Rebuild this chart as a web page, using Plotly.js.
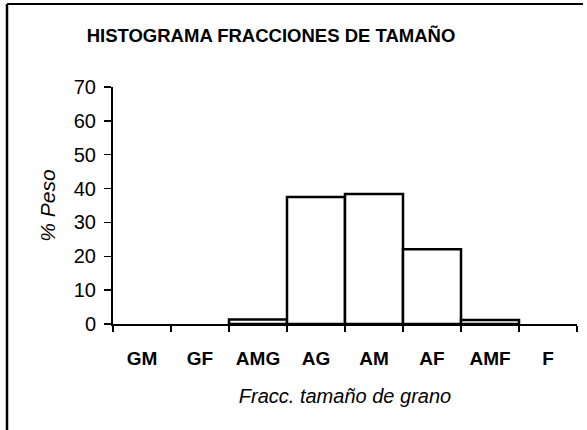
<!DOCTYPE html>
<html>
<head>
<meta charset="utf-8">
<script src="https://cdn.plot.ly/plotly-3.0.1.min.js"></script>
<style>html,body{margin:0;padding:0;background:#fff;}#chart{width:587px;height:430px;}</style>
</head>
<body>
<div id="chart"></div>
<script>
const categories = ["GM", "GF", "AMG", "AG", "AM", "AF", "AMF", "F"];
const pesoValues = [0, 0, 1.3, 37.5, 38.4, 22.1, 1.2, 0];
const yTickValues = [0, 10, 20, 30, 40, 50, 60, 70];
const chartTitle = "HISTOGRAMA FRACCIONES DE TAMAÑO";
const xTitle = "Fracc. tamaño de grano";
const yTitle = "% Peso";

const FONT = "Arial, 'Liberation Sans', sans-serif";
// plot area in pixels
const L = 113, R = 577, T = 87, B = 324;
const W = 587, H = 430;
const px2x = p => (p - L) / (R - L);
const px2y = p => (B - p) / (B - T);

const trace = {
  type: "bar",
  x: categories,
  y: pesoValues,
  width: 1,
  marker: {color: "#ffffff", line: {color: "#000000", width: pesoValues.map(v => v > 0 ? 2.5 : 0)}},
  hoverinfo: "x+y"
};

const layout = {
  width: W, height: H,
  margin: {l: L, r: W - R, t: T, b: H - B, pad: 0},
  paper_bgcolor: "#ffffff",
  plot_bgcolor: "#ffffff",
  showlegend: false,
  bargap: 0,
  title: {
    text: chartTitle,
    font: {family: FONT, size: 18.5, color: "#000", weight: "bold"},
    xref: "paper", x: px2x(271), xanchor: "center",
    yref: "container", y: 1 - 36 / H, yanchor: "middle"
  },
  xaxis: {
    type: "category",
    categoryorder: "array",
    categoryarray: categories,
    tickson: "boundaries",
    ticks: "outside", ticklen: 6, tickwidth: 1.5, tickcolor: "#000",
    showline: true, linecolor: "#000", linewidth: 2,
    showgrid: false, zeroline: false,
    tickfont: {family: FONT, size: 19, color: "#000", weight: "bold"},
    ticklabelstandoff: 16,
    title: {text: xTitle, font: {family: FONT, size: 20, color: "#000", style: "italic"}, standoff: 21},
    range: [-0.5, 7.5]
  },
  yaxis: {
    range: [0, 70],
    tickvals: yTickValues,
    ticks: "outside", ticklen: 7, tickwidth: 1.5, tickcolor: "#000",
    showline: true, linecolor: "#000", linewidth: 2,
    showgrid: false, zeroline: false,
    tickfont: {family: FONT, size: 20, color: "#000"},
    ticklabelstandoff: 4,
    title: {text: yTitle, font: {family: FONT, size: 21, color: "#000", style: "italic"}, standoff: 12}
  },
  shapes: [
    {type: "line", xref: "paper", yref: "paper", x0: px2x(7), x1: px2x(583), y0: px2y(4), y1: px2y(4), line: {color: "#000", width: 2}},
    {type: "line", xref: "paper", yref: "paper", x0: px2x(7), x1: px2x(7), y0: px2y(4), y1: px2y(432), line: {color: "#000", width: 2.5}}
  ]
};

Plotly.newPlot("chart", [trace], layout, {displayModeBar: false, staticPlot: true});
</script>
</body>
</html>
